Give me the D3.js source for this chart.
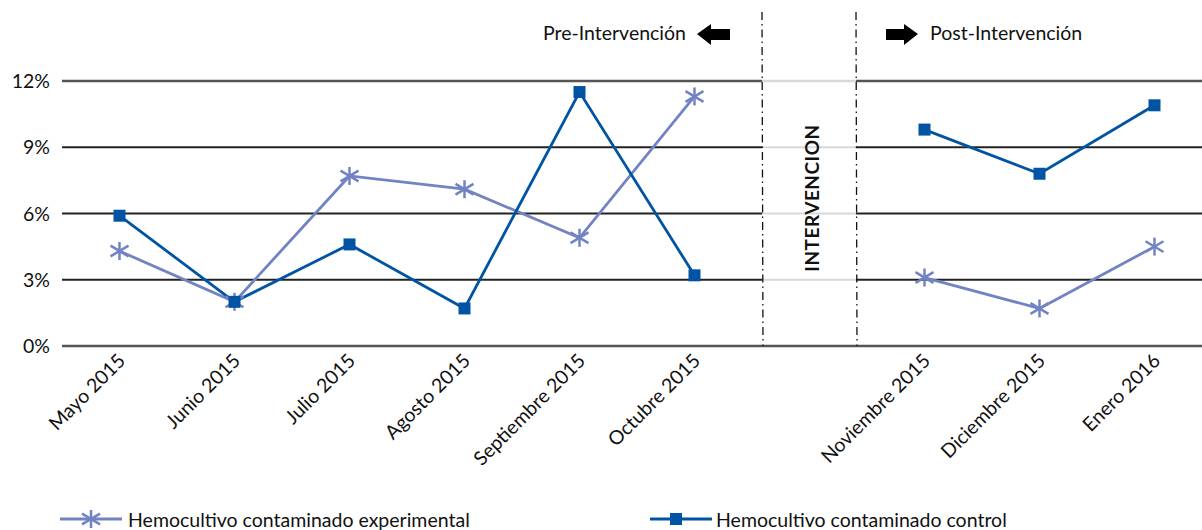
<!DOCTYPE html>
<html>
<head>
<meta charset="utf-8">
<script src="https://cdn.jsdelivr.net/npm/d3@7"></script>
<style>
  body { margin: 0; background: #fff; }
  text { font-family: Lato, "Open Sans", sans-serif; fill: #111; }
</style>
</head>
<body>
<svg id="chart" width="1202" height="530"></svg>
<script>
// data
var months = ["Mayo 2015", "Junio 2015", "Julio 2015", "Agosto 2015", "Septiembre 2015",
  "Octubre 2015", "", "Noviembre 2015", "Diciembre 2015", "Enero 2016"];
var experimental = [4.3, 2.0, 7.7, 7.1, 4.9, 11.3, null, 3.1, 1.7, 4.5];
var control = [5.9, 2.0, 4.6, 1.7, 11.5, 3.2, null, 9.8, 7.8, 10.9];
var yTicks = [0, 3, 6, 9, 12];

var expColor = "#7283c3", ctrlColor = "#0054a3";
var fs = "19.5px";

var svg = d3.select("#chart");

var x = d3.scaleBand().domain(d3.range(months.length)).range([62, 1212]);
var y = d3.scaleLinear().domain([0, 12]).range([346, 81]);
var cx = function(i) { return x(i) + x.bandwidth() / 2; };

// gridlines (lighter inside the intervention slot)
var lo = 762, hi = 856;
yTicks.forEach(function(t) {
  var w = (t == 0 || t == 12) ? 2.5 : 2;
  var c = (t == 0 || t == 12) ? "#555" : "#222";
  svg.append("line").attr("x1", 62).attr("x2", lo).attr("y1", y(t)).attr("y2", y(t))
    .attr("stroke", c).attr("stroke-width", w);
  svg.append("line").attr("x1", lo).attr("x2", hi).attr("y1", y(t)).attr("y2", y(t))
    .attr("stroke", t == 0 ? "#555" : "#d8d8d8").attr("stroke-width", w);
  svg.append("line").attr("x1", hi).attr("x2", 1202).attr("y1", y(t)).attr("y2", y(t))
    .attr("stroke", c).attr("stroke-width", w);
});

// y axis labels
svg.selectAll(".ylab").data(yTicks).enter().append("text")
  .attr("x", 50).attr("y", function(d) { return y(d) + 7; })
  .attr("text-anchor", "end").style("font-size", fs)
  .text(function(d) { return d + "%"; });

// x labels
svg.selectAll(".xlab").data(months).enter().append("text")
  .attr("text-anchor", "end").style("font-size", fs)
  .attr("transform", function(d, i) { return "translate(" + (cx(i) + 7) + ",362) rotate(-45)"; })
  .text(function(d) { return d; });

// dash-dot separators
[lo, hi].forEach(function(px) {
  svg.append("line").attr("x1", px).attr("x2", px + 1).attr("y1", 12).attr("y2", 346)
    .attr("stroke", "#111").attr("stroke-width", 1.3)
    .attr("stroke-dasharray", "8,4,1.5,4");
});

svg.append("text").attr("transform", "translate(819,198) rotate(-90)")
  .attr("text-anchor", "middle").style("font-size", "19px").style("font-weight", "bold")
  .style("letter-spacing", "0.5px").text("INTERVENCION");

// pre / post labels with arrows
svg.append("text").attr("x", 686).attr("y", 40).attr("text-anchor", "end")
  .style("font-size", fs).text("Pre-Intervención");
svg.append("path").attr("d", "M697,34 L711,24 L711,29 L730,29 L730,40 L711,40 L711,45 Z").attr("fill", "#000");
svg.append("path").attr("d", "M918,34 L904,24 L904,29 L886,29 L886,40 L904,40 L904,45 Z").attr("fill", "#000");
svg.append("text").attr("x", 930).attr("y", 40).style("font-size", fs).text("Post-Intervención");

// lines
var line = d3.line()
  .defined(function(d) { return d != null; })
  .x(function(d, i) { return cx(i); })
  .y(function(d) { return y(d); });

svg.append("path").datum(experimental).attr("d", line)
  .attr("fill", "none").attr("stroke", expColor).attr("stroke-width", 2.8);
svg.append("path").datum(control).attr("d", line)
  .attr("fill", "none").attr("stroke", ctrlColor).attr("stroke-width", 2.8);

function star(g, px, py) {
  var r = 9, s = g.append("g").attr("stroke", expColor).attr("stroke-width", 2.5);
  s.append("line").attr("x1", px).attr("x2", px).attr("y1", py - r).attr("y2", py + r);
  s.append("line").attr("x1", px - r).attr("x2", px + r).attr("y1", py - r * 0.6).attr("y2", py + r * 0.6);
  s.append("line").attr("x1", px - r).attr("x2", px + r).attr("y1", py + r * 0.6).attr("y2", py - r * 0.6);
}

experimental.forEach(function(d, i) { if (d != null) star(svg, cx(i), y(d)); });
svg.selectAll(".sq").data(control.map(function(d, i) { return { v: d, i: i }; })
    .filter(function(d) { return d.v != null; }))
  .enter().append("rect")
  .attr("x", function(d) { return cx(d.i) - 6; }).attr("y", function(d) { return y(d.v) - 6; })
  .attr("width", 12).attr("height", 12).attr("fill", ctrlColor);

// legend
svg.append("line").attr("x1", 60).attr("x2", 122).attr("y1", 519).attr("y2", 519)
  .attr("stroke", expColor).attr("stroke-width", 2.8);
star(svg, 91, 519);
svg.append("text").attr("x", 128).attr("y", 527).style("font-size", fs)
  .text("Hemocultivo contaminado experimental");
svg.append("line").attr("x1", 650).attr("x2", 712).attr("y1", 519).attr("y2", 519)
  .attr("stroke", ctrlColor).attr("stroke-width", 2.8);
svg.append("rect").attr("x", 670).attr("y", 513).attr("width", 12).attr("height", 12).attr("fill", ctrlColor);
svg.append("text").attr("x", 716).attr("y", 527).style("font-size", fs)
  .text("Hemocultivo contaminado control");
</script>
</body>
</html>
